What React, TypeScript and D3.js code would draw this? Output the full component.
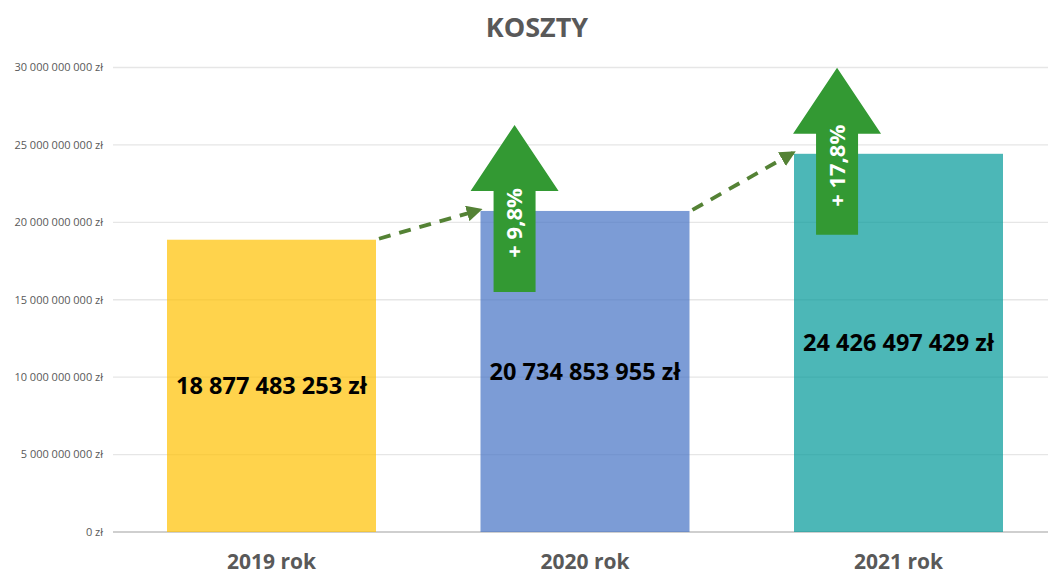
import React from "react";
import * as d3 from "d3";

const categories = ["2019 rok", "2020 rok", "2021 rok"];
const values = [18877483253, 20734853955, 24426497429];
const barColors = ["#FFC000", "#4472C4", "#009999"];
const yTicks = [0, 5e9, 10e9, 15e9, 20e9, 25e9, 30e9];
const growthLabels = ["+ 9,8%", "+ 17,8%"];
const growthArrowPos = [0.163, 0.206]; // fraction across target bar
const title = "KOSZTY";

const W = 1048;
const H = 577;

function fmt(v: number) {
  const s = Math.round(v).toString().replace(/\B(?=(\d{3})+(?!\d))/g, " ");
  return s + " zł";
}

export default function App() {
  const x = d3
    .scaleBand<string>()
    .domain(categories)
    .range([114.75, 1055.25])
    .paddingInner(1 / 3)
    .paddingOuter(1 / 6);
  const y = d3.scaleLinear().domain([0, 30e9]).range([532, 67.5]);
  const bw = x.bandwidth();
  const font = "'Open Sans', sans-serif";

  return (
    <div style={{ position: "absolute", left: 0, top: 0 }}>
      <svg width={W} height={H} style={{ display: "block", background: "#fff" }}>
        <defs>
          <marker
            id="dashHead"
            viewBox="0 0 10 10"
            refX="8"
            refY="5"
            markerWidth="4.2"
            markerHeight="4.2"
            orient="auto"
            markerUnits="strokeWidth"
          >
            <path d="M0,0 L10,5 L0,10 Z" fill="#548235" />
          </marker>
        </defs>
        <text
          x={537}
          y={37}
          textAnchor="middle"
          fontFamily={font}
          fontWeight="bold"
          fontSize={27}
          fill="#595959"
        >
          {title}
        </text>
        {yTicks.map((t) => (
          <g key={t}>
            <line
              x1={113}
              x2={W}
              y1={y(t)}
              y2={y(t)}
              stroke={t === 0 ? "#bfbfbf" : "#e6e6e6"}
              strokeWidth={t === 0 ? 1.5 : 1.3}
            />
            <text
              x={103}
              y={y(t)}
              dy="0.35em"
              textAnchor="end"
              fontFamily={font}
              fontSize={11}
              fill="#595959"
            >
              {fmt(t)}
            </text>
          </g>
        ))}
        {categories.map((c, i) => (
          <g key={c}>
            <rect
              x={x(c)}
              y={y(values[i])}
              width={bw}
              height={y(0) - y(values[i])}
              fill={barColors[i]}
              fillOpacity={0.7}
            />
            <text
              x={(x(c) as number) + bw / 2}
              y={(y(values[i]) + y(0)) / 2}
              dy="0.36em"
              textAnchor="middle"
              fontFamily={font}
              fontWeight="bold"
              fontSize={23.5}
              fill="#000"
            >
              {fmt(values[i])}
            </text>
            <text
              x={(x(c) as number) + bw / 2}
              y={561}
              dy="0.36em"
              textAnchor="middle"
              fontFamily={font}
              fontWeight="bold"
              fontSize={21}
              fill="#595959"
            >
              {c}
            </text>
          </g>
        ))}
        {growthLabels.map((lbl, k) => {
          const i = k + 1;
          const prev = categories[i - 1];
          const cur = categories[i];
          const x0 = (x(prev) as number) + bw + 3;
          const y0 = y(values[i - 1]) - 1;
          const x1 = (x(cur) as number) - 1;
          const y1 = y(values[i]) - 1;
          const top = y(values[i]);
          const cx = (x(cur) as number) + bw * growthArrowPos[k];
          const apex = top - 86;
          const headBase = top - 20;
          const bottom = top + 81;
          const hw = 44;
          const sw = 21;
          const path = `M${cx},${apex} L${cx + hw},${headBase} L${cx + sw},${headBase} L${cx + sw},${bottom} L${cx - sw},${bottom} L${cx - sw},${headBase} L${cx - hw},${headBase} Z`;
          const ty = apex + 98;
          return (
            <g key={lbl}>
              <line
                x1={x0}
                y1={y0}
                x2={x1}
                y2={y1}
                stroke="#548235"
                strokeWidth={3.8}
                strokeDasharray="12 9"
                markerEnd="url(#dashHead)"
              />
              <path d={path} fill="#339933" />
              <text
                transform={`translate(${cx},${ty}) rotate(-90)`}
                textAnchor="middle"
                dy="0.36em"
                fontFamily={font}
                fontWeight="bold"
                fontSize={22}
                fill="#fff"
              >
                {lbl}
              </text>
            </g>
          );
        })}
      </svg>
    </div>
  );
}
